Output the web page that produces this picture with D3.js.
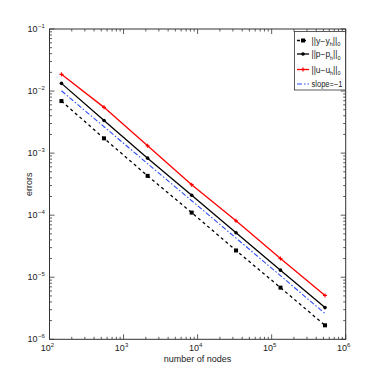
<!DOCTYPE html>
<html><head><meta charset="utf-8">
<script src="https://cdn.jsdelivr.net/npm/d3@7"></script>
<style>body{margin:0;background:#fff}svg{display:block}text{font-family:"Liberation Sans",Arial,sans-serif;fill:#222}</style>
</head><body>
<script>
const nodes = [145, 545, 2113, 8321, 33025, 131585, 525313];
const errY = [0.0069, 0.00173, 0.00043, 0.00011, 0.000027, 0.0000068, 0.00000168];
const errP = [0.0133, 0.00336, 0.00083, 0.00021, 0.000052, 0.000013, 0.00000324];
const errU = [0.0186, 0.00546, 0.00131, 0.00031, 0.000081, 0.00002, 0.0000051];
const slopeRef = [0.0101, 0.00266, 0.000677, 0.000171, 0.0000428, 0.0000106, 0.0000026];
const xTickExp = [2, 3, 4, 5, 6];
const yTickExp = [-6, -5, -4, -3, -2, -1];
const legendLabels = [["||y\u2212y","h","||","0"],["||p\u2212p","h","||","0"],["||u\u2212u","h","||","0"],["slope=\u22121"]];

const W = 382, H = 382;
const L = 49.5, R = 345.7, T = 29, B = 339.3;
const svg = d3.select("body").append("svg").attr("width", W).attr("height", H);
const x = d3.scaleLog().domain([1e2, 1e6]).range([L, R]);
const y = d3.scaleLog().domain([1e-6, 1e-1]).range([B, T]);

const g = svg.append("g").attr("stroke", "#333").attr("stroke-width", 0.8);
for (let e = 2; e <= 6; e++) {
  for (let k = 1; k <= 9; k++) {
    if (e === 6 && k > 1) break;
    const v = k * Math.pow(10, e), px = x(v), len = k === 1 ? 5 : 2.5;
    g.append("line").attr("x1", px).attr("x2", px).attr("y1", B).attr("y2", B - len);
    g.append("line").attr("x1", px).attr("x2", px).attr("y1", T).attr("y2", T + len);
  }
}
for (let e = -6; e <= -1; e++) {
  for (let k = 1; k <= 9; k++) {
    if (e === -1 && k > 1) break;
    const v = k * Math.pow(10, e), py = y(v), len = k === 1 ? 5 : 2.5;
    g.append("line").attr("y1", py).attr("y2", py).attr("x1", L).attr("x2", L + len);
    g.append("line").attr("y1", py).attr("y2", py).attr("x1", R).attr("x2", R - len);
  }
}
svg.append("rect").attr("x", L).attr("y", T).attr("width", R - L).attr("height", B - T)
  .attr("fill", "none").attr("stroke", "#333").attr("stroke-width", 1);

xTickExp.forEach(e => {
  const t = svg.append("text").attr("x", x(Math.pow(10, e)) - 2).attr("y", B + 12)
    .attr("text-anchor", "middle").attr("font-size", 9);
  t.append("tspan").text("10");
  t.append("tspan").attr("dy", -4).attr("font-size", 6).text(e);
});
yTickExp.forEach(e => {
  svg.append("text").attr("x", L - 12).attr("y", y(Math.pow(10, e)) + 3)
    .attr("text-anchor", "end").attr("font-size", 9).text("10");
  svg.append("text").attr("x", L - 11.5).attr("y", y(Math.pow(10, e)) - 1.5)
    .attr("font-size", 6).text("\u2212" + Math.abs(e));
});
svg.append("text").attr("x", (L + R) / 2).attr("y", 362).attr("text-anchor", "middle")
  .attr("font-size", 9).text("number of nodes");
svg.append("text").attr("transform", `translate(32,${(T + B) / 2}) rotate(-90)`)
  .attr("text-anchor", "middle").attr("font-size", 9).text("errors");

const series = [
  {vals: errY, color: "#000", dash: "3,3", w: 1.3, marker: "square"},
  {vals: errP, color: "#000", dash: null, w: 1.3, marker: "dot"},
  {vals: errU, color: "#f00", dash: null, w: 1.3, marker: "plus"},
  {vals: slopeRef, color: "#2a4cff", dash: "5,2,1.5,2", w: 1.1, marker: null}
];
const line = d3.line().x(d => x(d[0])).y(d => y(d[1]));
function drawMarker(sel, type, cx, cy, color) {
  if (type === "square") sel.append("rect").attr("x", cx - 2).attr("y", cy - 2).attr("width", 4).attr("height", 4).attr("fill", color);
  else if (type === "dot") sel.append("circle").attr("cx", cx).attr("cy", cy).attr("r", 1.8).attr("fill", color);
  else if (type === "plus") {
    sel.append("line").attr("x1", cx - 2).attr("x2", cx + 2).attr("y1", cy).attr("y2", cy).attr("stroke", color).attr("stroke-width", 1.2);
    sel.append("line").attr("x1", cx).attr("x2", cx).attr("y1", cy - 2).attr("y2", cy + 2).attr("stroke", color).attr("stroke-width", 1.2);
  }
}
series.forEach(s => {
  const pts = nodes.map((n, i) => [n, s.vals[i]]);
  svg.append("path").attr("d", line(pts)).attr("fill", "none").attr("stroke", s.color)
    .attr("stroke-width", s.w).attr("stroke-dasharray", s.dash);
  if (s.marker) pts.forEach(p => drawMarker(svg, s.marker, x(p[0]), y(p[1]), s.color));
});

const lg = svg.append("g");
lg.append("rect").attr("x", 294.5).attr("y", 31.5).attr("width", 51).attr("height", 58.5)
  .attr("fill", "#fff").attr("stroke", "#333").attr("stroke-width", 0.8);
const ly = [40.5, 54, 69.5, 84];
series.forEach((s, i) => {
  lg.append("line").attr("x1", 297).attr("x2", 309).attr("y1", ly[i]).attr("y2", ly[i])
    .attr("stroke", s.color).attr("stroke-width", s.w).attr("stroke-dasharray", s.dash);
  if (s.marker) drawMarker(lg, s.marker, 303, ly[i], s.color);
  const lab = legendLabels[i];
  const t = lg.append("text").attr("x", 311.5).attr("y", ly[i] + 3).attr("font-size", 8.5)
    .attr("textLength", lab.length === 1 ? 31 : 29).attr("lengthAdjust", "spacingAndGlyphs");
  if (lab.length === 1) t.text(lab[0]);
  else {
    t.append("tspan").text(lab[0]);
    t.append("tspan").attr("dy", 2.5).attr("font-size", 5.5).text(lab[1]);
    t.append("tspan").attr("dy", -2.5).text(lab[2]);
    t.append("tspan").attr("dy", 2.5).attr("font-size", 5.5).text(lab[3]);
  }
});
</script>
</body></html>
